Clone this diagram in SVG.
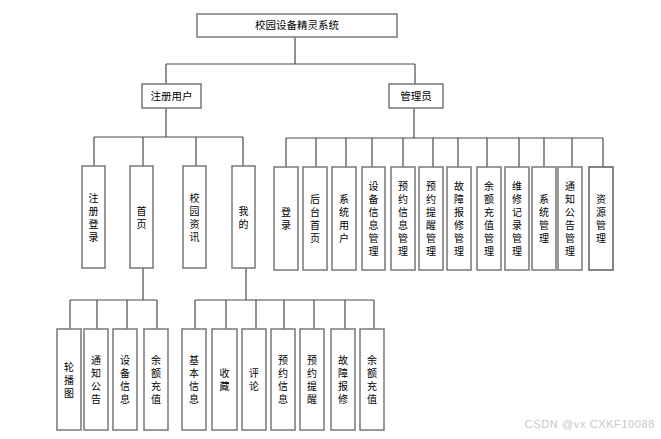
<svg xmlns="http://www.w3.org/2000/svg" width="661" height="439" viewBox="0 0 661 439">
<style>
.box{fill:#fff;stroke:#808080;stroke-width:1.6}
.ln{fill:none;stroke:#4a4a4a;stroke-width:1.2}
text{font-family:"Noto Sans CJK SC","Liberation Sans",sans-serif;font-size:10.5px;fill:#000;text-anchor:middle}
.v text{font-size:10px}
.wm{font-family:"Liberation Sans",sans-serif;font-size:11px;fill:#c8c8c8;text-anchor:end;letter-spacing:0.6px}
</style>
<rect width="661" height="439" fill="#fff"/>
<g id="connectors">
<path class="ln" d="M295 37V64M166 64H415M166 64V84M415 64V84"/>
<path class="ln" d="M166 108V137M94 137H243M94 137V166M143 137V166M196 137V166M243 137V166"/>
<path class="ln" d="M414 108V138M286 138H603M286 138V167M316 138V167M346 138V167M372 138V167M403 138V167M433 138V167M458 138V167M487 138V167M519 138V167M544 138V167M572 138V167M603 138V167"/>
<path class="ln" d="M143 268V300M70 300H157M70 300V329M97 300V329M127 300V329M157 300V329"/>
<path class="ln" d="M246 268V300M195 300H374M195 300V329M226 300V329M256 300V329M284 300V329M314 300V329M345 300V329M374 300V329"/>
</g>
<g id="root"><rect class="box" x="197" y="14" width="200" height="23"/><text x="297" y="29">校园设备精灵系统</text></g>
<g id="user"><rect class="box" x="142" y="84" width="59" height="24"/><text x="171.5" y="100">注册用户</text></g>
<g id="admin"><rect class="box" x="389" y="84" width="54" height="24"/><text x="416" y="100">管理员</text></g>
<g class="v">
<g id="u1"><rect class="box" x="82" y="166" width="23" height="102"/><text x="93.5" y="201.5">注</text><text x="93.5" y="214.5">册</text><text x="93.5" y="227.5">登</text><text x="93.5" y="240.5">录</text></g>
<g id="u2"><rect class="box" x="130" y="166" width="23" height="102"/><text x="141.5" y="214.5">首</text><text x="141.5" y="227.5">页</text></g>
<g id="u3"><rect class="box" x="183" y="166" width="23" height="102"/><text x="194.5" y="201.5">校</text><text x="194.5" y="214.5">园</text><text x="194.5" y="227.5">资</text><text x="194.5" y="240.5">讯</text></g>
<g id="u4"><rect class="box" x="232" y="166" width="23" height="102"/><text x="243.5" y="214.5">我</text><text x="243.5" y="227.5">的</text></g>
<g id="a1"><rect class="box" x="274" y="167" width="24" height="103"/><text x="286" y="216">登</text><text x="286" y="229">录</text></g>
<g id="a2"><rect class="box" x="303" y="167" width="24" height="103"/><text x="315" y="203">后</text><text x="315" y="216">台</text><text x="315" y="229">首</text><text x="315" y="242">页</text></g>
<g id="a3"><rect class="box" x="332" y="167" width="24" height="103"/><text x="344" y="203">系</text><text x="344" y="216">统</text><text x="344" y="229">用</text><text x="344" y="242">户</text></g>
<g id="a4"><rect class="box" x="362" y="167" width="23" height="103"/><text x="373.5" y="190">设</text><text x="373.5" y="203">备</text><text x="373.5" y="216">信</text><text x="373.5" y="229">息</text><text x="373.5" y="242">管</text><text x="373.5" y="255">理</text></g>
<g id="a5"><rect class="box" x="391" y="167" width="24" height="103"/><text x="403" y="190">预</text><text x="403" y="203">约</text><text x="403" y="216">信</text><text x="403" y="229">息</text><text x="403" y="242">管</text><text x="403" y="255">理</text></g>
<g id="a6"><rect class="box" x="419" y="167" width="24" height="103"/><text x="431" y="190">预</text><text x="431" y="203">约</text><text x="431" y="216">提</text><text x="431" y="229">醒</text><text x="431" y="242">管</text><text x="431" y="255">理</text></g>
<g id="a7"><rect class="box" x="447" y="167" width="24" height="103"/><text x="459" y="190">故</text><text x="459" y="203">障</text><text x="459" y="216">报</text><text x="459" y="229">修</text><text x="459" y="242">管</text><text x="459" y="255">理</text></g>
<g id="a8"><rect class="box" x="477" y="167" width="24" height="103"/><text x="489" y="190">余</text><text x="489" y="203">额</text><text x="489" y="216">充</text><text x="489" y="229">值</text><text x="489" y="242">管</text><text x="489" y="255">理</text></g>
<g id="a9"><rect class="box" x="505" y="167" width="24" height="103"/><text x="517" y="190">维</text><text x="517" y="203">修</text><text x="517" y="216">记</text><text x="517" y="229">录</text><text x="517" y="242">管</text><text x="517" y="255">理</text></g>
<g id="a10"><rect class="box" x="532" y="167" width="24" height="103"/><text x="544" y="203">系</text><text x="544" y="216">统</text><text x="544" y="229">管</text><text x="544" y="242">理</text></g>
<g id="a11"><rect class="box" x="558" y="167" width="24" height="103"/><text x="570" y="190">通</text><text x="570" y="203">知</text><text x="570" y="216">公</text><text x="570" y="229">告</text><text x="570" y="242">管</text><text x="570" y="255">理</text></g>
<g id="a12"><rect class="box" x="589" y="167" width="24" height="103" style="stroke:#666"/><text x="601" y="203">资</text><text x="601" y="216">源</text><text x="601" y="229">管</text><text x="601" y="242">理</text></g>
<g id="h1"><rect class="box" x="57" y="329" width="24" height="101"/><text x="69" y="370.5">轮</text><text x="69" y="383.5">播</text><text x="69" y="396.5">图</text></g>
<g id="h2"><rect class="box" x="84" y="329" width="24" height="101"/><text x="96" y="364">通</text><text x="96" y="377">知</text><text x="96" y="390">公</text><text x="96" y="403">告</text></g>
<g id="h3"><rect class="box" x="113" y="329" width="24" height="101"/><text x="125" y="364">设</text><text x="125" y="377">备</text><text x="125" y="390">信</text><text x="125" y="403">息</text></g>
<g id="h4"><rect class="box" x="144" y="329" width="24" height="101"/><text x="156" y="364">余</text><text x="156" y="377">额</text><text x="156" y="390">充</text><text x="156" y="403">值</text></g>
<g id="m1"><rect class="box" x="182" y="329" width="24" height="101"/><text x="194" y="364">基</text><text x="194" y="377">本</text><text x="194" y="390">信</text><text x="194" y="403">息</text></g>
<g id="m2"><rect class="box" x="212" y="329" width="25" height="101"/><text x="224.5" y="377">收</text><text x="224.5" y="390">藏</text></g>
<g id="m3"><rect class="box" x="242" y="329" width="24" height="101"/><text x="254" y="377">评</text><text x="254" y="390">论</text></g>
<g id="m4"><rect class="box" x="271" y="329" width="24" height="101"/><text x="283" y="364">预</text><text x="283" y="377">约</text><text x="283" y="390">信</text><text x="283" y="403">息</text></g>
<g id="m5"><rect class="box" x="300" y="329" width="24" height="101"/><text x="312" y="364">预</text><text x="312" y="377">约</text><text x="312" y="390">提</text><text x="312" y="403">醒</text></g>
<g id="m6"><rect class="box" x="331" y="329" width="24" height="101"/><text x="343" y="364">故</text><text x="343" y="377">障</text><text x="343" y="390">报</text><text x="343" y="403">修</text></g>
<g id="m7"><rect class="box" x="360" y="329" width="24" height="101"/><text x="372" y="364">余</text><text x="372" y="377">额</text><text x="372" y="390">充</text><text x="372" y="403">值</text></g>
</g>
<text class="wm" x="655" y="428">CSDN @vx  CXKF10088</text>
</svg>
